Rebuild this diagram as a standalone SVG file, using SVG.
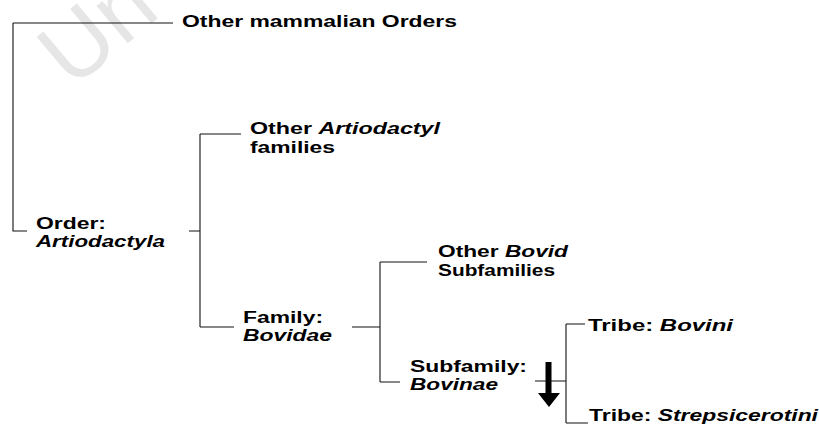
<svg xmlns="http://www.w3.org/2000/svg" width="819" height="428" viewBox="0 0 819 428">
<style>
.t{font-family:"Liberation Sans",Arial,sans-serif;font-weight:bold;font-size:16px;fill:#000}
.i{font-style:italic}
.ln{fill:none;stroke:#111;stroke-width:1.1}
.wm{font-family:"Liberation Sans",Arial,sans-serif;font-size:92px;fill:#e6e6e6}
</style>
<rect width="819" height="428" fill="#fff"/>
<text class="wm" transform="translate(72,90) rotate(-40)">Un</text>
<g id="connectors">
<path class="ln" d="M13,23 H173 M13,23 V231 H27"/>
<path class="ln" d="M189,231 H200 M200,134 V327 M200,134 H241 M200,327 H234"/>
<path class="ln" d="M352,327 H380 M380,262 V382 M380,262 H427 M380,382 H400"/>
<path class="ln" d="M535,381 H566 M566,324 V423 M566,324 H585 M566,423 H588"/>
<g id="arrow" fill="#000">
<rect x="545.5" y="362" width="6" height="32"/>
<polygon points="538,393 560,393 549,407"/>
</g>
</g>
<g id="other-orders"><text class="t" x="182" y="27" textLength="275" lengthAdjust="spacingAndGlyphs">Other mammalian Orders</text></g>
<g id="other-artiodactyl"><text class="t" x="250" y="134" textLength="190" lengthAdjust="spacingAndGlyphs">Other <tspan class="i">Artiodactyl</tspan></text><text class="t" x="250" y="153" textLength="85" lengthAdjust="spacingAndGlyphs">families</text></g>
<g id="order"><text class="t" x="36" y="229" textLength="70" lengthAdjust="spacingAndGlyphs">Order:</text><text class="t i" x="36" y="247" textLength="129" lengthAdjust="spacingAndGlyphs">Artiodactyla</text></g>
<g id="family"><text class="t" x="243" y="323" textLength="80" lengthAdjust="spacingAndGlyphs">Family:</text><text class="t i" x="243" y="341" textLength="89" lengthAdjust="spacingAndGlyphs">Bovidae</text></g>
<g id="other-bovid"><text class="t" x="438" y="257" textLength="130" lengthAdjust="spacingAndGlyphs">Other <tspan class="i">Bovid</tspan></text><text class="t" x="438" y="276" textLength="117" lengthAdjust="spacingAndGlyphs">Subfamilies</text></g>
<g id="subfamily"><text class="t" x="410" y="372" textLength="117" lengthAdjust="spacingAndGlyphs">Subfamily:</text><text class="t i" x="410" y="390" textLength="88" lengthAdjust="spacingAndGlyphs">Bovinae</text></g>
<g id="bovini"><text class="t" x="588" y="331" textLength="145" lengthAdjust="spacingAndGlyphs">Tribe: <tspan class="i">Bovini</tspan></text></g>
<g id="strepsicerotini"><text class="t" x="589" y="421" textLength="229" lengthAdjust="spacingAndGlyphs">Tribe: <tspan class="i">Strepsicerotini</tspan></text></g>
</svg>
